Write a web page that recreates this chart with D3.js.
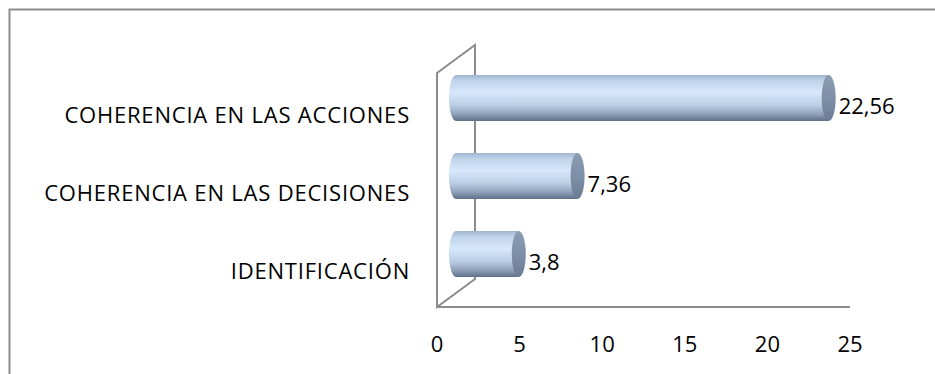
<!DOCTYPE html>
<html>
<head>
<meta charset="utf-8">
<script src="https://cdn.jsdelivr.net/npm/d3@7"></script>
<style>
  body { margin: 0; background: #fff; }
  text { font-family: 'Open Sans', 'Liberation Sans', sans-serif; fill: #000; }
</style>
</head>
<body>
<div id="plot"></div>
<script>
const width = 935
const height = 374

// chart data
const categories = ['COHERENCIA EN LAS ACCIONES', 'COHERENCIA EN LAS DECISIONES', 'IDENTIFICACIÓN']
const values = [22.56, 7.36, 3.8]
const valueLabels = ['22,56', '7,36', '3,8']
const ticks = [0, 5, 10, 15, 20, 25]

// 3d depth of the walls
const depth = {dx: 38, dy: -28}
const front = {top: 73, bottom: 307}

const svg = d3.select('div#plot').append('svg')
    .attr('width', width)
    .attr('height', height)
    .attr('viewBox', [0, 0, width, height])

// outer frame (left + top visible)
svg.append('path')
    .attr('d', 'M9.5,' + height + ' V9.5 H' + width)
    .attr('fill', 'none')
    .attr('stroke', '#8c8c8c')
    .attr('stroke-width', 2)

const x = d3.scaleLinear()
    .domain([0, 25])
    .range([437, 850])

// bars live half way into the depth
const y = d3.scaleBand()
    .domain(categories)
    .range([front.top + depth.dy / 2, front.bottom + depth.dy / 2])
    .paddingInner(0.41)
    .paddingOuter(0.205)

// gradients
const defs = svg.append('defs')
const body = defs.append('linearGradient')
    .attr('id', 'cyl').attr('x1', 0).attr('y1', 0).attr('x2', 0).attr('y2', 1)
body.selectAll('stop')
    .data([[0, '#9fb4cf'], [0.12, '#bed2ea'], [0.38, '#d7e8fb'], [0.65, '#bccfe6'], [0.85, '#8fa2ba'], [1, '#5f7088']])
    .enter().append('stop')
    .attr('offset', d => d[0]).attr('stop-color', d => d[1])
const cap = defs.append('linearGradient')
    .attr('id', 'cap').attr('x1', 0).attr('y1', 0).attr('x2', 0).attr('y2', 1)
cap.selectAll('stop')
    .data([[0, '#8a9cb2'], [0.5, '#7d90a7'], [1, '#6a7c93']])
    .enter().append('stop')
    .attr('offset', d => d[0]).attr('stop-color', d => d[1])

// walls
const wall = svg.append('g')
    .attr('fill', 'none')
    .attr('stroke', '#8c8c8c')
    .attr('stroke-width', 2)

wall.append('path')
    .attr('d', 'M' + x(0) + ',' + front.top
        + ' L' + (x(0) + depth.dx) + ',' + (front.top + depth.dy)
        + ' V' + (front.bottom + depth.dy)
        + ' L' + x(0) + ',' + front.bottom
        + ' Z')
wall.append('line')
    .attr('x1', x(0)).attr('x2', x(25))
    .attr('y1', front.bottom).attr('y2', front.bottom)

// cylinders
const rx = 7
const bars = svg.append('g')
    .selectAll('g')
    .data(categories)
    .enter()
    .append('g')

const x0 = x(0) + depth.dx / 2
bars.append('path')
    .attr('d', (d, i) => {
        const x1 = x(values[i]) + depth.dx / 2
        const top = y(d), h = y.bandwidth(), r = h / 2
        return 'M' + x1 + ',' + top
            + ' H' + x0
            + ' A' + rx + ',' + r + ' 0 0 0 ' + x0 + ',' + (top + h)
            + ' H' + x1 + ' Z'
    })
    .attr('fill', 'url(#cyl)')

bars.append('ellipse')
    .attr('cx', (d, i) => x(values[i]) + depth.dx / 2)
    .attr('cy', d => y(d) + y.bandwidth() / 2)
    .attr('rx', rx)
    .attr('ry', y.bandwidth() / 2)
    .attr('fill', 'url(#cap)')

// value labels
bars.append('text')
    .attr('x', (d, i) => x(values[i]) + depth.dx / 2 + rx + 3)
    .attr('y', d => y(d) + y.bandwidth() / 2 + 16)
    .attr('font-size', 22)
    .text((d, i) => valueLabels[i])

// category labels
svg.append('g')
    .selectAll('text')
    .data(categories)
    .enter()
    .append('text')
    .attr('x', 410)
    .attr('y', d => y(d) + y.bandwidth() / 2 + 25)
    .attr('text-anchor', 'end')
    .attr('font-size', 22)
    .attr('letter-spacing', 0.8)
    .text(d => d)

// x tick labels
svg.append('g')
    .selectAll('text')
    .data(ticks)
    .enter()
    .append('text')
    .attr('x', d => x(d))
    .attr('y', 352)
    .attr('text-anchor', 'middle')
    .attr('font-size', 22)
    .text(d => d)
</script>
</body>
</html>
